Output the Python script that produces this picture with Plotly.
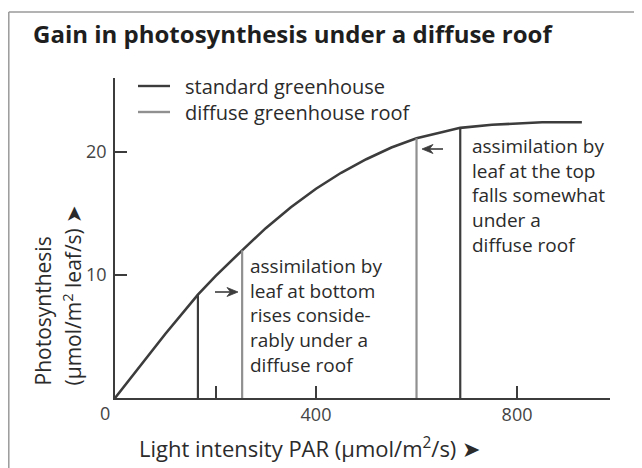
import plotly.graph_objects as go

# ---- data ----
light = [0, 50, 100, 165, 200, 253, 300, 350, 400, 450, 500, 550, 600, 650, 687, 750, 800, 850, 929]
photo = [0, 2.6, 5.2, 8.4, 9.9, 12.0, 13.8, 15.5, 17.0, 18.3, 19.4, 20.35, 21.1, 21.6, 21.95, 22.2, 22.3, 22.4, 22.4]

standard_x = [165, 687]        # leaf at bottom / leaf at top, standard greenhouse
standard_y = [8.4, 21.95]
diffuse_x = [253, 600]         # leaf at bottom / leaf at top, diffuse roof
diffuse_y = [12.0, 21.1]

x_tickvals = [400, 800]
x_ticktext = ["400", "800"]
x_minor_ticks = [200]
y_tickvals = [10, 20]
y_ticktext = ["10", "20"]

legend_names = ["standard greenhouse", "diffuse greenhouse roof"]
note_bottom = ["assimilation by", "leaf at bottom", "rises conside-", "rably under a", "diffuse roof"]
note_top = ["assimilation by", "leaf at the top", "falls somewhat", "under a", "diffuse roof"]

DARK = "#3c3c3c"
GREY = "#909090"
TXT = "#2b2b2b"
FONT = "Open Sans"
ARROW = "➤"

def vlines(xs, ys):
    vx, vy = [], []
    for a, b in zip(xs, ys):
        vx += [a, a, None]
        vy += [0, b, None]
    return vx, vy

fig = go.Figure()
fig.add_trace(go.Scatter(x=light, y=photo, mode="lines", line=dict(color=DARK, width=2.6),
                         showlegend=False, hoverinfo="skip"))
sx, sy = vlines(standard_x, standard_y)
fig.add_trace(go.Scatter(x=sx, y=sy, mode="lines", line=dict(color=DARK, width=2.2),
                         name=legend_names[0], showlegend=False))
dx, dy = vlines(diffuse_x, diffuse_y)
fig.add_trace(go.Scatter(x=dx, y=dy, mode="lines", line=dict(color=GREY, width=2.2),
                         name=legend_names[1], showlegend=False))

# page body has an 8px margin: positions below are figure pixels
W, H = 642, 468
L, R, T, B = 107, 40, 70, 78
pw, ph = W - L - R, H - T - B

def pp(px, py):
    return (px - L) / pw, (H - B - py) / ph

annotations = []
shapes = []

def text_at(px, py, txt, size=21, xanchor="left", yanchor="middle", angle=0, color=TXT):
    x, y = pp(px, py)
    annotations.append(dict(x=x, y=y, xref="paper", yref="paper", xanchor=xanchor, yanchor=yanchor,
                            text=txt, showarrow=False, textangle=angle, align="left",
                            font=dict(size=size, color=color, family=FONT)))

# corner zero
text_at(97, 405, "0", size=18, xanchor="center", color="#444")

# note blocks
text_at(240, 307, "<br>".join(note_bottom), size=19)
text_at(462, 187, "<br>".join(note_top), size=19)

# small arrows: stem + swept filled head
def arrow(tail_x, head_x, yc):
    d = 1 if head_x > tail_x else -1
    a0 = pp(tail_x, yc)
    a1 = pp(head_x - d * 6, yc)
    shapes.append(dict(type="line", xref="paper", yref="paper", x0=a0[0], y0=a0[1], x1=a1[0], y1=a1[1],
                       line=dict(color=DARK, width=1.6)))
    pts = [pp(head_x, yc), pp(head_x - d * 11, yc - 4.5), pp(head_x - d * 7.5, yc), pp(head_x - d * 11, yc + 4.5)]
    path = "M " + " L ".join(f"{x:.5f},{y:.5f}" for x, y in pts) + " Z"
    shapes.append(dict(type="path", xref="paper", yref="paper", path=path,
                       fillcolor=DARK, line=dict(color=DARK, width=0.8)))

arrow(207, 230, 284)
arrow(435, 414, 141)

# axis titles
text_at(129, 439, "Light intensity PAR (µmol/m<sup>2</sup>/s) " + ARROW, size=22)
text_at(34, 380, "Photosynthesis", xanchor="center", yanchor="bottom", angle=-90)
text_at(64, 380, "(µmol/m<sup>2</sup> leaf/s) " + ARROW, xanchor="center", yanchor="bottom", angle=-90)

# legend (drawn): two sample lines + one two-line text block
LEG_SIZE = 20
leg_gap = 1.3 * LEG_SIZE
leg_y = [78, 78 + leg_gap]
for col, yc in zip([DARK, GREY], leg_y):
    x0, y0 = pp(130, yc)
    x1, _ = pp(162, yc)
    shapes.append(dict(type="line", xref="paper", yref="paper", x0=x0, x1=x1, y0=y0, y1=y0,
                       line=dict(color=col, width=2.4)))
text_at(175, (leg_y[0] + leg_y[1]) / 2, "<br>".join(legend_names), size=LEG_SIZE)

# frame (left and top border)
fx0, fy0 = pp(0.8, 468)
fx1, fy1 = pp(642, 4)
shapes += [
    dict(type="line", xref="paper", yref="paper", x0=fx0, x1=fx0, y0=fy0, y1=fy1,
         line=dict(color="#9a9a9a", width=1.5)),
    dict(type="line", xref="paper", yref="paper", x0=fx0, x1=fx1, y0=fy1, y1=fy1,
         line=dict(color="#9a9a9a", width=1.5)),
]

fig.update_layout(
    width=W, height=H,
    margin=dict(l=L, r=R, t=T, b=B),
    paper_bgcolor="white", plot_bgcolor="white",
    font=dict(family=FONT, color=TXT),
    title=dict(text="<b>Gain in photosynthesis under a diffuse roof</b>",
               x=25 / W, xanchor="left", xref="container",
               y=1 - 27 / H, yanchor="middle", yref="container",
               font=dict(size=24, color="#1e1e1e", family=FONT)),
    xaxis=dict(range=[0, 985], showgrid=False, zeroline=False, showline=True,
               linecolor=DARK, linewidth=1.6, ticks="inside", ticklen=12, tickwidth=1.6,
               tickcolor=DARK, tickvals=x_tickvals, ticktext=x_ticktext,
               minor=dict(tickvals=x_minor_ticks, ticks="inside", ticklen=12, tickwidth=1.6,
                          tickcolor=DARK, showgrid=False),
               tickfont=dict(size=18, color="#444", family=FONT)),
    yaxis=dict(range=[0, 26], showgrid=False, zeroline=False, showline=True,
               linecolor=DARK, linewidth=1.6, ticks="inside", ticklen=12, tickwidth=1.6,
               tickcolor=DARK, tickvals=y_tickvals, ticktext=y_ticktext, ticklabelstandoff=3,
               tickfont=dict(size=18, color="#444", family=FONT)),
    showlegend=False,
    annotations=annotations,
    shapes=shapes,
)

fig.write_html("out.html")
